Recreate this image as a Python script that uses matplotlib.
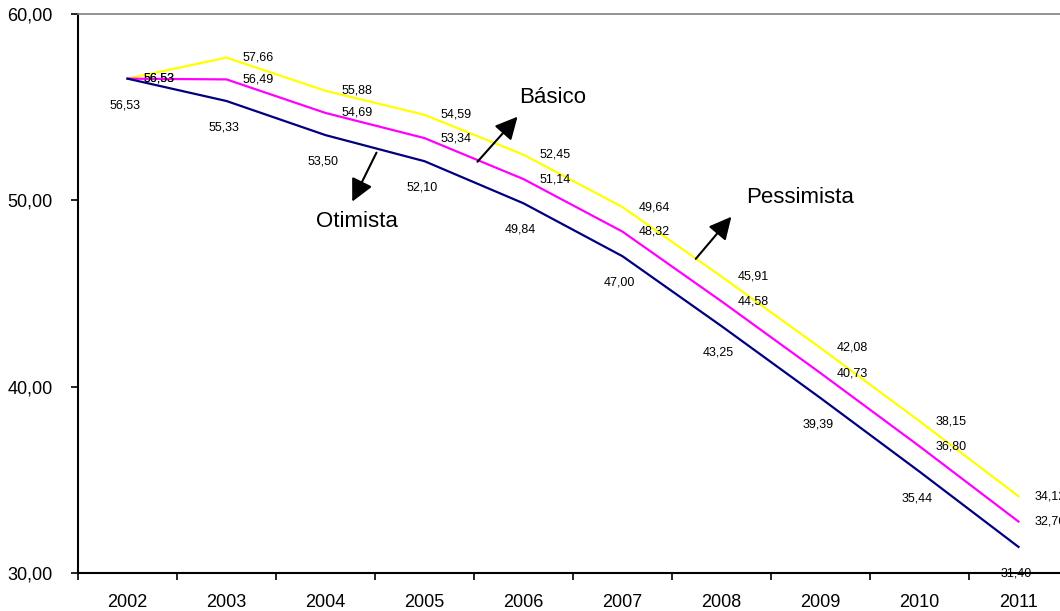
import matplotlib.pyplot as plt
from matplotlib.ticker import FuncFormatter

plt.rcParams['font.family'] = ['Liberation Sans', 'DejaVu Sans']

# -------------------------
# Data
# -------------------------
years = ["2002", "2003", "2004", "2005", "2006", "2007", "2008", "2009", "2010", "2011"]
pessimista = [56.53, 57.66, 55.88, 54.59, 52.45, 49.64, 45.91, 42.08, 38.15, 34.12]
basico = [56.53, 56.49, 54.69, 53.34, 51.14, 48.32, 44.58, 40.73, 36.80, 32.76]
otimista = [56.53, 55.33, 53.50, 52.10, 49.84, 47.00, 43.25, 39.39, 35.44, 31.40]

def br(v):
    return f"{v:.2f}".replace(".", ",")

# -------------------------
# Figure
# -------------------------
fig = plt.figure(figsize=(10.6, 6.11), dpi=100)
ax = fig.add_axes([78 / 1060, 1 - 573 / 611, 990 / 1060, 559 / 611])

x = list(range(len(years)))
ax.plot(x, pessimista, color="#FFFF00", lw=1.6)
ax.plot(x, basico, color="#FF00FF", lw=1.6)
ax.plot(x, otimista, color="#000080", lw=1.6)

# data labels
for i in x:
    ax.annotate(br(pessimista[i]), (i, pessimista[i]), xytext=(23, 0), textcoords="offset points",
                ha="center", va="center", fontsize=9, color="black", annotation_clip=False)
    ax.annotate(br(basico[i]), (i, basico[i]), xytext=(23, 0), textcoords="offset points",
                ha="center", va="center", fontsize=9, color="black", annotation_clip=False)
    ax.annotate(br(otimista[i]), (i, otimista[i]), xytext=(-2, -19), textcoords="offset points",
                ha="center", va="center", fontsize=9, color="black", annotation_clip=False)

# scenario arrows
arrow = dict(arrowstyle="-|>", color="black", lw=1.5, mutation_scale=34, shrinkA=0, shrinkB=0)
ax.annotate("", xy=(3.94, 54.49), xytext=(3.535, 52.07), arrowprops=arrow)
ax.text(3.96, 55.5, "Básico", fontsize=16, ha="left", va="center")
ax.annotate("", xy=(2.27, 49.93), xytext=(2.515, 52.56), arrowprops=arrow)
ax.text(2.32, 48.85, "Otimista", fontsize=16, ha="center", va="center")
ax.annotate("", xy=(6.10, 49.12), xytext=(5.74, 46.86), arrowprops=arrow)
ax.text(6.25, 50.14, "Pessimista", fontsize=16, ha="left", va="center")

# axes
ax.set_xlim(-0.5, 9.5)
ax.set_ylim(30, 60)
ax.set_yticks([30, 40, 50, 60])
ax.yaxis.set_major_formatter(FuncFormatter(lambda v, p: br(v)))
ax.tick_params(axis="y", direction="out", length=5, width=1.2, pad=13, labelsize=13)

ax.set_xticks([i - 0.5 for i in range(len(years) + 1)])
ax.set_xticklabels([])
ax.set_xticks(x, minor=True)
ax.set_xticklabels(years, minor=True)
ax.tick_params(axis="x", which="major", direction="out", length=5, width=1.2)
ax.tick_params(axis="x", which="minor", length=0, pad=15, labelsize=13)

ax.spines["left"].set_linewidth(1.5)
ax.spines["bottom"].set_linewidth(1.5)
ax.spines["top"].set_color("#808080")
ax.spines["top"].set_linewidth(1.2)
ax.spines["right"].set_visible(False)

plt.savefig("out.png", dpi=100)
